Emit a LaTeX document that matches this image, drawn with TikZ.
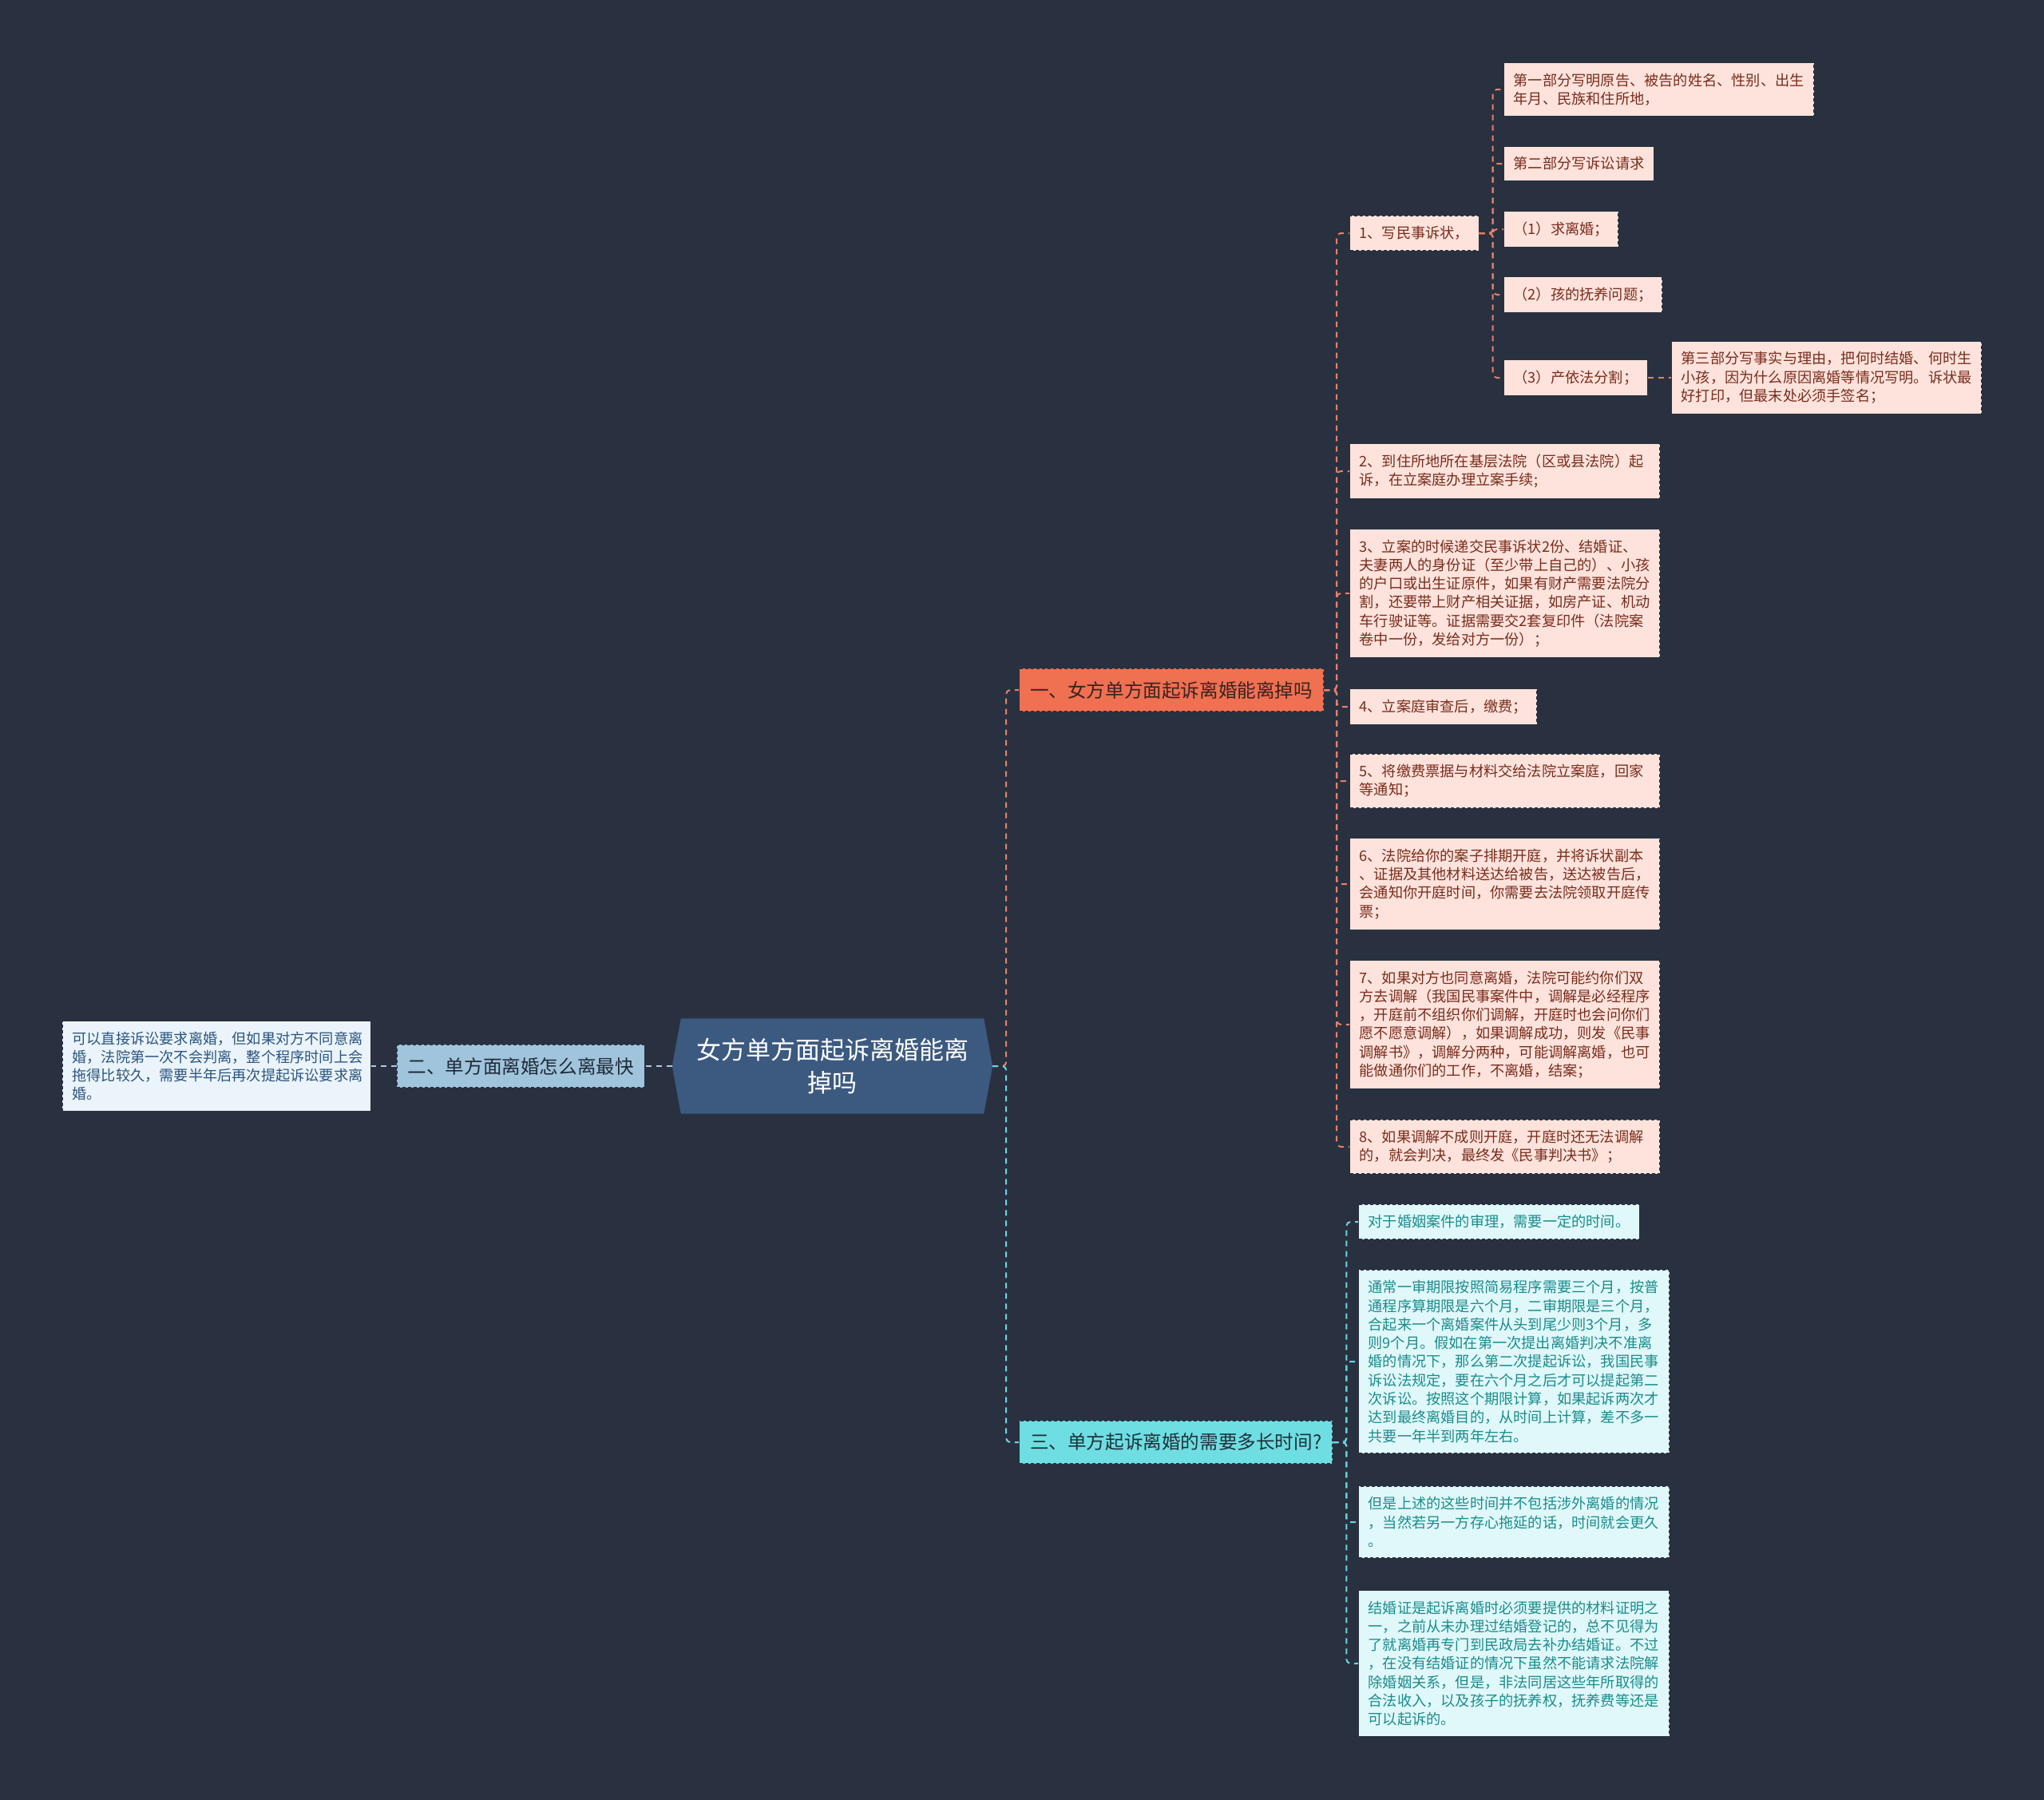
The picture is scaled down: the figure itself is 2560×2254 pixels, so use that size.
\documentclass[tikz,border=0pt]{standalone}
\usepackage{fontspec}
\setmainfont{Noto Sans CJK SC}
\pgfdeclarelayer{back}
\pgfdeclarelayer{mid}
\pgfsetlayers{back,mid,main}
\definecolor{bgcol}{RGB}{41,49,64}
\definecolor{rootfill}{RGB}{60,90,128}
\definecolor{orfill}{RGB}{240,112,82}
\definecolor{ortext}{RGB}{58,34,30}
\definecolor{orleaffill}{RGB}{253,227,220}
\definecolor{orleaftext}{RGB}{122,44,28}
\definecolor{orlinecol}{RGB}{232,128,104}
\definecolor{blfill}{RGB}{160,196,220}
\definecolor{bltext}{RGB}{30,42,56}
\definecolor{blleaffill}{RGB}{235,244,250}
\definecolor{blleaftext}{RGB}{43,85,128}
\definecolor{bllinecol}{RGB}{172,204,224}
\definecolor{cyfill}{RGB}{110,222,226}
\definecolor{cytext}{RGB}{30,50,58}
\definecolor{cyleaffill}{RGB}{224,248,250}
\definecolor{cyleaftext}{RGB}{26,140,140}
\definecolor{cylinecol}{RGB}{104,216,226}
\begin{document}
\begin{tikzpicture}[line join=bevel,
  nodebox/.style={draw=bgcol,dash pattern=on 4bp off 3bp,line width=1.2bp,align=left},
  leafsize/.style={nodebox,inner xsep=12bp,inner ysep=13bp,font=\fontsize{18.2bp}{23.3bp}\selectfont},
  orleaf/.style={leafsize,fill=orleaffill,text=orleaftext},
  orwide/.style={orleaf,text width=364bp},
  cyleaf/.style={leafsize,fill=cyleaffill,text=cyleaftext},
  cywide/.style={cyleaf,text width=365bp},
  blwide/.style={leafsize,fill=blleaffill,text=blleaftext,text width=362bp},
  lvlone/.style={nodebox,inner xsep=13.5bp,inner ysep=16bp,font=\fontsize{23.6bp}{28bp}\selectfont},
  rootnode/.style={text=white,align=center,minimum width=401bp,minimum height=119bp,inner sep=0pt,font=\fontsize{31bp}{41.7bp}\selectfont},
  orline/.style={draw=orlinecol,line width=2bp,dash pattern=on 7bp off 6bp,rounded corners=5bp},
  cyline/.style={draw=cylinecol,line width=2bp,dash pattern=on 7bp off 6bp,rounded corners=5bp},
  blline/.style={draw=bllinecol,line width=2bp,dash pattern=on 7bp off 6bp}]
%%
\begin{pgfonlayer}{back}
\fill [bgcol] (0bp,0bp) rectangle (2560bp,-2254bp);
\end{pgfonlayer}
\useasboundingbox (0bp,0bp) rectangle (2560bp,-2254bp);
\node (0) at (1042.5bp,-1335bp) [rootnode] {女方单方面起诉离婚能离\\掉吗};
  \node (1) at (1276bp,-864bp) [lvlone,anchor=west,fill=orfill,text=ortext] {一、女方单方面起诉离婚能离掉吗};
  \node (2) at (808bp,-1335bp) [lvlone,anchor=east,fill=blfill,text=bltext] {二、单方面离婚怎么离最快};
  \node (3) at (1276bp,-1806bp) [lvlone,anchor=west,fill=cyfill,text=cytext] {三、单方起诉离婚的需要多长时间?};
  \node (4) at (1690bp,-292bp) [orleaf,anchor=west] {1、写民事诉状，};
  \node (5) at (1690bp,-590bp) [orwide,anchor=west] {2、到住所地所在基层法院（区或县法院）起\\诉，在立案庭办理立案手续;};
  \node (6) at (1690bp,-743bp) [orwide,anchor=west] {3、立案的时候递交民事诉状2份、结婚证、\\夫妻两人的身份证（至少带上自己的）、小孩\\的户口或出生证原件，如果有财产需要法院分\\割，还要带上财产相关证据，如房产证、机动\\车行驶证等。证据需要交2套复印件（法院案\\卷中一份，发给对方一份）；};
  \node (7) at (1690bp,-885bp) [orleaf,anchor=west] {4、立案庭审查后，缴费；};
  \node (8) at (1690bp,-978bp) [orwide,anchor=west] {5、将缴费票据与材料交给法院立案庭，回家\\等通知；};
  \node (9) at (1690bp,-1107bp) [orwide,anchor=west] {6、法院给你的案子排期开庭，并将诉状副本\\、证据及其他材料送达给被告，送达被告后，\\会通知你开庭时间，你需要去法院领取开庭传\\票；};
  \node (10) at (1690bp,-1283bp) [orwide,anchor=west] {7、如果对方也同意离婚，法院可能约你们双\\方去调解（我国民事案件中，调解是必经程序\\，开庭前不组织你们调解，开庭时也会问你们\\愿不愿意调解），如果调解成功，则发《民事\\调解书》，调解分两种，可能调解离婚，也可\\能做通你们的工作，不离婚，结案；};
  \node (11) at (1690bp,-1436bp) [orwide,anchor=west] {8、如果调解不成则开庭，开庭时还无法调解\\的，就会判决，最终发《民事判决书》；};
  \node (12) at (1883bp,-112bp) [orwide,anchor=west] {第一部分写明原告、被告的姓名、性别、出生\\年月、民族和住所地，};
  \node (13) at (1883bp,-205bp) [orleaf,anchor=west] {第二部分写诉讼请求};
  \node (14) at (1883bp,-287bp) [orleaf,anchor=west] {（1）求离婚；};
  \node (15) at (1883bp,-369bp) [orleaf,anchor=west] {（2）孩的抚养问题；};
  \node (16) at (1883bp,-473bp) [orleaf,anchor=west] {（3）产依法分割；};
  \node (17) at (2093bp,-473bp) [orwide,anchor=west] {第三部分写事实与理由，把何时结婚、何时生\\小孩，因为什么原因离婚等情况写明。诉状最\\好打印，但最末处必须手签名；};
  \node (18) at (1701bp,-1530bp) [cyleaf,anchor=west] {对于婚姻案件的审理，需要一定的时间。};
  \node (19) at (1701bp,-1705bp) [cywide,anchor=west] {通常一审期限按照简易程序需要三个月，按普\\通程序算期限是六个月，二审期限是三个月，\\合起来一个离婚案件从头到尾少则3个月，多\\则9个月。假如在第一次提出离婚判决不准离\\婚的情况下，那么第二次提起诉讼，我国民事\\诉讼法规定，要在六个月之后才可以提起第二\\次诉讼。按照这个期限计算，如果起诉两次才\\达到最终离婚目的，从时间上计算，差不多一\\共要一年半到两年左右。};
  \node (20) at (1701bp,-1906bp) [cywide,anchor=west] {但是上述的这些时间并不包括涉外离婚的情况\\，当然若另一方存心拖延的话，时间就会更久\\。};
  \node (21) at (1701bp,-2083bp) [cywide,anchor=west] {结婚证是起诉离婚时必须要提供的材料证明之\\一，之前从未办理过结婚登记的，总不见得为\\了就离婚再专门到民政局去补办结婚证。不过\\，在没有结婚证的情况下虽然不能请求法院解\\除婚姻关系，但是，非法同居这些年所取得的\\合法收入，以及孩子的抚养权，抚养费等还是\\可以起诉的。};
  \node (22) at (465bp,-1335bp) [blwide,anchor=east] {可以直接诉讼要求离婚，但如果对方不同意离\\婚，法院第一次不会判离，整个程序时间上会\\拖得比较久，需要半年后再次提起诉讼要求离\\婚。};
\begin{pgfonlayer}{mid}
\fill [rootfill] ([xshift=11bp]0.north west) -- ([xshift=-11bp]0.north east) -- (0.east) -- ([xshift=-11bp]0.south east) -- ([xshift=11bp]0.south west) -- (0.west) -- cycle;
\end{pgfonlayer}
  \draw [orline] (0.east) -- ++(17bp,0) |- (1.west);
  \draw [cyline] (0.east) -- ++(17bp,0) |- (3.west);
  \draw [blline] (0.west) -- (2.east);
  \draw [blline] (2.west) -- (22.east);
  \draw [orline] (1.east) -- ++(16bp,0) |- (4.west);
  \draw [orline] (1.east) -- ++(16bp,0) |- (5.west);
  \draw [orline] (1.east) -- ++(16bp,0) |- (6.west);
  \draw [orline] (1.east) -- ++(16bp,0) |- (7.west);
  \draw [orline] (1.east) -- ++(16bp,0) |- (8.west);
  \draw [orline] (1.east) -- ++(16bp,0) |- (9.west);
  \draw [orline] (1.east) -- ++(16bp,0) |- (10.west);
  \draw [orline] (1.east) -- ++(16bp,0) |- (11.west);
  \draw [orline] (4.east) -- ++(17bp,0) |- (12.west);
  \draw [orline] (4.east) -- ++(17bp,0) |- (13.west);
  \draw [orline] (4.east) -- ++(17bp,0) |- (14.west);
  \draw [orline] (4.east) -- ++(17bp,0) |- (15.west);
  \draw [orline] (4.east) -- ++(17bp,0) |- (16.west);
  \draw [orline] (16.east) -- (17.west);
  \draw [cyline] (3.east) -- ++(17bp,0) |- (18.west);
  \draw [cyline] (3.east) -- ++(17bp,0) |- (19.west);
  \draw [cyline] (3.east) -- ++(17bp,0) |- (20.west);
  \draw [cyline] (3.east) -- ++(17bp,0) |- (21.west);
%
\end{tikzpicture}
\end{document}
